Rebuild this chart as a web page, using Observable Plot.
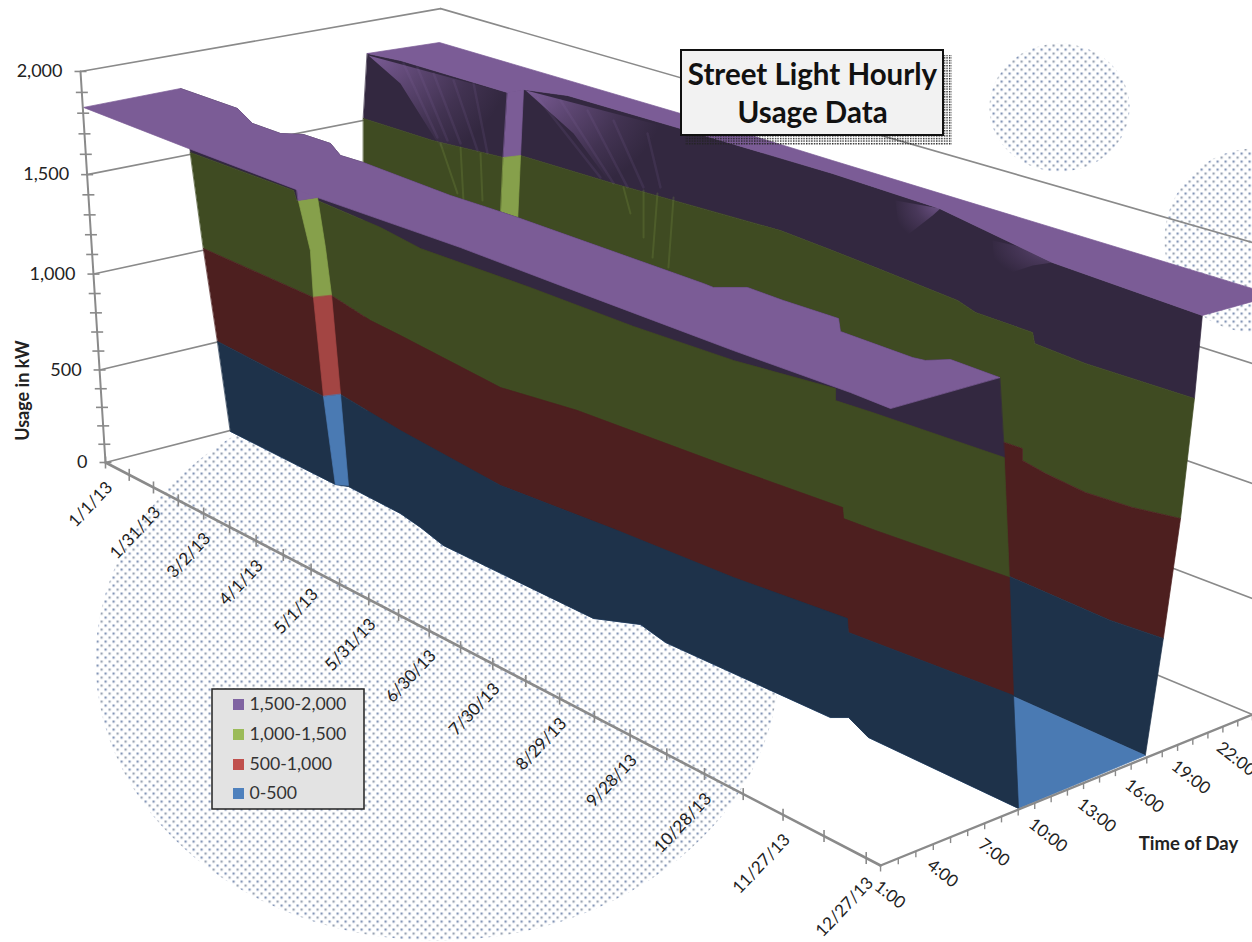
<!DOCTYPE html>
<html>
<head>
<meta charset="utf-8">
<title>Street Light Hourly Usage Data</title>
<style>
html,body{margin:0;padding:0;background:#fff;overflow:hidden}
svg{display:block;overflow:hidden}
</style>
<script src="https://cdn.jsdelivr.net/npm/d3@7"></script>
<script src="https://cdn.jsdelivr.net/npm/@observablehq/plot@0.6"></script>
</head>
<body>
<div id="chart"></div>
<script>
// Axis labels
const usageTicks = [0, 500, 1000, 1500, 2000];
const dateTickDays = [0, 30, 60, 90, 120, 150, 180, 210, 240, 270, 300, 330, 360];
const dateTickLabels = ["1/1/13", "1/31/13", "3/2/13", "4/1/13", "5/1/13", "5/31/13", "6/30/13", "7/30/13", "8/29/13", "9/28/13", "10/28/13", "11/27/13", "12/27/13"];
const hourTicks = [1, 4, 7, 10, 13, 16, 19, 22];
const hourTickLabels = ["1:00", "4:00", "7:00", "10:00", "13:00", "16:00", "19:00", "22:00"];

// Legend
const bandNames = ["1,500-2,000", "1,000-1,500", "500-1,000", "0-500"];
const bandSwatch = ["#8064a2", "#9bbb59", "#c0504d", "#4f81bd"];

// Morning switch-off cliff: [grid day, hour] where usage crosses each level.
// Grid days run 0..360 over the whole year; see calendarDay below.
const morningTop = [[354.3,6.08],[338.2,6.19],[335.0,5.36],[331.6,5.23],[306.9,5.34],[299.3,6.45],[297.2,6.45],[280.2,6.39],[266.6,6.47],[261.2,5.38],[257.1,5.43],[180.3,5.65],[167.3,5.62],[151.2,5.55],[107.1,5.89],[96.5,5.80],[83.4,6.75],[69.6,6.73],[64.2,5.97],[48.8,6.02],[30.3,7.16],[-3.1,7.26]];
const morning1500 = [[-2.0,7.58],[56.6,7.52],[66.5,6.57],[70.5,7.38],[106.3,6.96],[131.0,6.32],[179.1,6.45],[224.6,6.36],[262.1,6.61],[294.3,7.42],[300.8,6.38],[312.8,6.52],[354.5,6.80]];
const morning1000 = [[-1.6,8.10],[64.9,7.64],[66.8,8.56],[94.9,7.65],[112.4,7.38],[168.4,6.36],[197.1,7.11],[258.2,7.58],[296.5,8.00],[302.2,7.14],[313.0,7.23],[354.9,7.80]];
const morning500 = [[-0.4,8.63],[67.2,7.87],[69.0,8.75],[107.8,7.89],[164.0,7.01],[212.3,7.61],[258.0,7.98],[297.2,8.71],[303.9,7.69],[357.1,8.44]];
const morning0 = [[0.9,9.10],[64.3,8.85],[68.5,9.22],[98.1,9.04],[111.7,8.67],[128.0,8.09],[200.1,8.05],[211.9,9.34],[226.1,8.87],[291.3,9.16],[294.3,9.79],[306.5,9.03],[359.6,9.09]];

// Overnight plateau before dawn: [grid day, usage] along the 1:00 edge
const plateauAtOne = [[0.4,1829],[60.0,1814],[114.3,1805],[126.1,1803],[174.0,1809],[191.5,1811],[233.0,1804],[268.9,1799],[297.9,1795],[337.4,1797],[350.2,1792]];

// Evening switch-on cliff
const eveningTop = [[-2.7,19.32],[12.5,19.71],[69.1,19.65],[69.3,20.69],[84.2,21.62],[137.5,21.58],[203.0,21.46],[247.4,20.99],[301.0,18.64],[353.9,17.79]];
const eveningFar = [[-2.7,19.32],[-0.2,23.94],[123.8,23.57],[192.8,23.08],[347.4,22.19],[354.5,22.12]];
const evening1500 = [[-2.1,18.93],[35.7,18.97],[67.0,19.71],[68.6,20.65],[112.8,20.84],[183.0,21.54],[207.2,21.13],[226.8,20.75],[262.6,20.00],[273.0,19.34],[294.3,19.17],[300.9,18.11],[320.0,17.77],[354.9,17.83]];
const evening1000 = [[9.8,17.41],[172.3,18.32],[289.0,19.14],[295.2,19.18],[301.5,18.06],[312.0,17.64],[327.8,17.25],[342.4,17.45],[355.0,18.03]];
const evening500 = [[21.2,16.10],[191.2,15.86],[303.8,17.63],[340.6,17.37],[356.8,17.65]];
const evening0 = [[29.5,15.22],[189.3,16.48],[313.2,17.14],[359.0,17.10]];

// The single outlier day seen as a lit strip on each cliff: [grid day, hour, usage]
const morningStripLeft = [[66.8,6.64,1500],[67.5,7.22,1250],[64.9,7.64,1000],[67.2,7.87,500],[64.3,8.85,0]];
const morningStripRight = [[67.8,7.70,1500],[67.8,8.12,1250],[66.8,8.56,1000],[69.0,8.75,500],[67.7,9.31,0]];
const morningStripCap = [[117.0,0.87,1820],[125.5,0.95,1820]];
const eveningStripLeft = [[69.1,19.65,1827],[67.0,19.71,1500],[74.5,18.48,1000]];
const eveningStripRight = [[69.3,20.69,1827],[68.6,20.65,1500],[82.2,18.61,1000]];

// Lighter shoulders where the switch-on hour shifts: [grid day, usage] at the 16:30 column
const shoulderHour = 16.5;
const wideShoulders = [
  [[21.5,1921],[92.0,1938],[85.1,1544],[59.6,1577],[38.6,1830]],
  [[101.6,1975],[163.0,1994],[160.0,1646],[143.4,1651],[124.6,1842]]
];
const smallShoulders = [
  [[256.8,1967],[272.9,1988],[270.4,1950],[259.8,1810]],
  [[291.7,1921],[313.8,1939],[312.1,1905],[305.8,1870],[294.0,1778]]
];
const purpleStreaks = [[40.3,1932,58.0,1621],[47.6,1933,63.2,1622],[56.0,1927,69.9,1628],[66.2,1922,78.5,1620],[76.3,1936,83.5,1621],[107.4,1958,137.4,1678],[118.2,1976,143.4,1670],[130.7,1966,149.7,1672],[142.5,1955,156.7,1695],[157.6,1942,164.1,1719]];
const greenStreaks = [[59.6,1596,68.4,1377],[69.9,1608,71.5,1352],[80.0,1611,81.2,1384],[147.9,1666,151.4,1557],[156.8,1681,157.6,1466],[162.9,1687,161.9,1388],[169.9,1692,169.0,1367]];

// Far ends of the rear wall gridlines, where they leave the frame: [grid day, hour, usage]
const rearGridEnds = [[345.0,22.26,2000],[346.5,23.16,1500],[350.3,23.58,1000],[354.0,24.02,500],[360,24,0]];

// Colours
const topPurple = "#7b5c96", darkPurple = "#332840", darkOlive = "#3f4b22", darkRed = "#4d1f1f", darkBlue = "#1e324a";
const litGreen = "#86a04b", litRed = "#a34543", litBlue = "#4a7ab3";
const axisGrey = "#8a8a8a";

// Perspective of the chart box: grid day 0..360, hour 1..24, usage 0..2000 to drawing units
function project([day, hour, kw]) {
  const u = day / 360, v = (hour - 1) / 23, z = kw / 2000;
  const w = 1 - 0.26288 * u + 0.07487 * v - 0.07 * z;
  return [(543.7 * u + 367.9 * v - 30.6 * z + 105) / w, (175.6 * u - 57.85 * v - 396 * z + 462) / w];
}
const px = r => project(r)[0];
const py = r => project(r)[1];
const level = (rows, kw) => rows.map(([d, h]) => [d, h, kw]);
const onWall = rows => rows.map(([d, kw]) => [d, shoulderHour, kw]);
// Calendar days since Jan 1, placed on the 0..360 grid that spans the full 365-day year
const calendarDay = d => d * 360 / 365;

const poly = (rows, color, extra = {}) =>
  Plot.line(rows, {x: px, y: py, fill: color, stroke: color, strokeWidth: 0.7, curve: "linear-closed", ...extra});
const wire = (rows, width = 1.6) =>
  Plot.line(rows, {x: px, y: py, stroke: axisGrey, strokeWidth: width});

// Soft round patches of stipple behind the chart
const patch = (cx, cy, rx, ry) => Plot.line(
  d3.range(0, 361, 3).map(a => [cx + rx * Math.cos(a * Math.PI / 180), cy + ry * Math.sin(a * Math.PI / 180)]),
  {x: d => d[0], y: d => d[1], fill: "url(#stipple)", stroke: "none", curve: "linear-closed"}
);

const defs = () => {
  const g = d3.create("svg:g");
  g.html(`<defs>
    <pattern id="stipple" width="8" height="8" patternUnits="userSpaceOnUse">
      <rect x="0" y="0" width="2.2" height="2.2" fill="#8496b6"/>
      <rect x="4" y="4" width="2.2" height="2.2" fill="#9aa4b4"/>
    </pattern>
    <pattern id="shadow" width="2.6" height="2.6" patternUnits="userSpaceOnUse">
      <rect x="0" y="0" width="1.4" height="1.4" fill="#222"/>
    </pattern>
    <radialGradient id="fanFade" cx="0.05" cy="0" r="1">
      <stop offset="0" stop-color="${topPurple}" stop-opacity="0.95"/>
      <stop offset="0.35" stop-color="${topPurple}" stop-opacity="0.55"/>
      <stop offset="0.7" stop-color="${topPurple}" stop-opacity="0.2"/>
      <stop offset="1" stop-color="${topPurple}" stop-opacity="0"/>
    </radialGradient>
    <radialGradient id="smallFade" cx="0.95" cy="0.1" r="1">
      <stop offset="0" stop-color="${topPurple}" stop-opacity="0.8"/>
      <stop offset="0.5" stop-color="${topPurple}" stop-opacity="0.3"/>
      <stop offset="1" stop-color="${topPurple}" stop-opacity="0"/>
    </radialGradient>
  </defs>`);
  return g.node();
};

const box = (x1, y1, x2, y2, options) =>
  Plot.rect([0], {x1: () => x1, y1: () => y1, x2: () => x2, y2: () => y2, ...options});

const tickDays = d3.range(0, 361, 15).map(calendarDay), tickHours = d3.range(1, 25), tickUsage = d3.range(0, 2001, 100);

const chart = Plot.plot({
  width: 1252,
  height: 942,
  margin: 0,
  style: {background: "#fff", fontFamily: "Lato, sans-serif"},
  x: {domain: [0, 1252], range: [0, 1252], axis: null},
  y: {domain: [0, 942], range: [0, 942], axis: null},
  marks: [
    defs,
    patch(437, 660, 342, 280),
    patch(1059, 107, 70, 64),
    patch(1254, 240, 90, 92),

    // Side wall and rear wall gridlines
    ...usageTicks.map(kw => wire([[0, 1, kw], [0, 24, kw]])),
    ...usageTicks.map((kw, i) => wire([[0, 24, kw], rearGridEnds[usageTicks.length - 1 - i]])),

    // Evening cliff, farthest from the viewer
    poly([...level(eveningTop, 1827), ...level(evening1500, 1500).reverse()], darkPurple),
    poly([...level(evening1500, 1500), ...level(evening1000, 1000).reverse()], darkOlive),
    poly([...level(evening1000, 1000), ...level(evening500, 500).reverse()], darkRed),
    poly([...level(evening500, 500), ...level(evening0, 0).reverse()], darkBlue),
    ...wideShoulders.map(s => poly(onWall(s), "url(#fanFade)", {stroke: "none"})),
    ...smallShoulders.map(s => poly(onWall(s), "url(#smallFade)", {stroke: "none"})),
    ...purpleStreaks.map(([d1, k1, d2, k2]) =>
      Plot.line([[d1, shoulderHour, k1], [d2, shoulderHour, k2]], {x: px, y: py, stroke: "#8a6da6", strokeOpacity: 0.14, strokeWidth: 2.5})),
    ...greenStreaks.map(([d1, k1, d2, k2]) =>
      Plot.line([[d1, shoulderHour, k1], [d2, shoulderHour, k2]], {x: px, y: py, stroke: litGreen, strokeOpacity: 0.22, strokeWidth: 2})),
    poly([eveningStripLeft[0], eveningStripRight[0], eveningStripRight[1], eveningStripLeft[1]], topPurple),
    poly([eveningStripLeft[1], eveningStripRight[1], eveningStripRight[2], eveningStripLeft[2]], litGreen),
    poly([...level(eveningFar, 1827), ...level(eveningTop, 1827).reverse()], topPurple),

    // Unlit floor between the two cliffs
    poly([...level(morning0, 0), ...level(evening0, 0).reverse()], litBlue),

    // Morning cliff and the plateau in front of it
    poly([...level(morningTop, 1820), ...level(morning1500, 1500)], darkPurple),
    poly([...level(morning1500, 1500), ...level(morning1000, 1000).reverse()], darkOlive),
    poly([...level(morning1000, 1000), ...level(morning500, 500).reverse()], darkRed),
    poly([...level(morning500, 500), ...level(morning0, 0).reverse()], darkBlue),
    poly([morningStripLeft[0], morningStripLeft[1], morningStripLeft[2], morningStripRight[2], morningStripRight[1], morningStripRight[0]], litGreen),
    poly([morningStripLeft[2], morningStripLeft[3], morningStripRight[3], morningStripRight[2]], litRed),
    poly([morningStripLeft[3], morningStripLeft[4], morningStripRight[4], morningStripRight[3]], litBlue),
    poly([morningStripCap[0], morningStripCap[1], morningStripRight[0], morningStripLeft[0]], topPurple),
    poly([...level(morningTop, 1820), ...plateauAtOne.map(([d, kw]) => [d, 1, kw])], topPurple),

    // Floor edges and axes
    wire([[0, 1, 0], [0, 1, 2000]], 2),
    wire([[0, 1, 0], [360, 1, 0]], 2.6),
    wire([[360, 1, 0], [360, 24, 0]], 2.4),
    Plot.link(tickDays, {x1: d => px([d, 1, 0]), x2: d => px([d, 1, 0]), y1: d => py([d, 1, 0]) - 6, y2: d => py([d, 1, 0]) + 6, stroke: axisGrey, strokeWidth: 1.6}),
    Plot.link(tickHours, {x1: h => px([360, h, 0]), x2: h => px([360, h, 0]), y1: h => py([360, h, 0]), y2: h => py([360, h, 0]) + 6, stroke: axisGrey, strokeWidth: 1.4}),
    Plot.link(tickUsage, {x1: k => px([0, 1, k]) - 6, x2: k => px([0, 1, k]) + 6, y1: k => py([0, 1, k]), y2: k => py([0, 1, k]), stroke: axisGrey, strokeWidth: 1.6}),

    // Axis labels
    Plot.text(usageTicks, {x: k => px([0, 1, k]), y: k => py([0, 1, k]), text: k => d3.format(",")(k), textAnchor: "end", dx: -18, fontSize: 18, fill: "#222"}),
    Plot.text(dateTickDays, {x: d => px([calendarDay(d), 1, 0]), y: d => py([calendarDay(d), 1, 0]), text: (d, i) => dateTickLabels[i], textAnchor: "end", rotate: -46.5, dx: 4, dy: 22, fontSize: 17, fill: "#222"}),
    Plot.text(hourTicks, {x: h => px([360, h, 0]), y: h => py([360, h, 0]), text: (h, i) => hourTickLabels[i], textAnchor: "start", rotate: 38, dx: -4, dy: 19, fontSize: 17, fill: "#222"}),
    Plot.text(["Usage in kW"], {x: () => 23, y: () => 390, rotate: -90, fontSize: 18, fontWeight: 700, fill: "#222"}),
    Plot.text(["Time of Day"], {x: () => 1188, y: () => 844, fontSize: 18.5, fontWeight: 700, fill: "#222"}),

    // Title box
    box(685, 55, 952, 145, {fill: "url(#shadow)"}),
    box(681, 50, 943, 135, {fill: "#f2f2f2", stroke: "#111", strokeWidth: 2}),
    Plot.text(["Street Light Hourly", "Usage Data"], {x: () => 812, y: (d, i) => 75 + i * 38, fontSize: 29.5, fontWeight: 700, fill: "#111"}),

    // Legend
    box(212, 689, 364, 809, {fill: "#e3e3e3", stroke: "#222", strokeWidth: 1.5}),
    box(233, 699, 244, 710, {fill: bandSwatch[0]}),
    box(233, 729, 244, 740, {fill: bandSwatch[1]}),
    box(233, 759, 244, 770, {fill: bandSwatch[2]}),
    box(233, 788, 244, 799, {fill: bandSwatch[3]}),
    Plot.text(bandNames, {x: () => 249, y: (d, i) => [704, 734, 764, 793][i], textAnchor: "start", fontSize: 17.7, fill: "#333"})
  ]
});
document.getElementById("chart").append(chart);
</script>
</body>
</html>
